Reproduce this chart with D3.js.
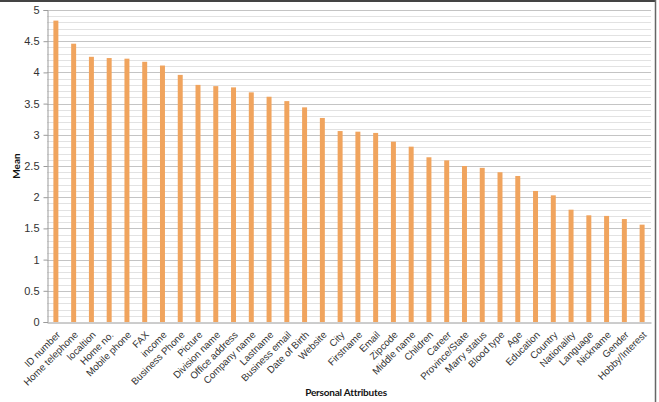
<!DOCTYPE html>
<html>
<head>
<meta charset="utf-8">
<script src="https://cdn.jsdelivr.net/npm/d3@7"></script>
<style>
  body { margin: 0; background: #fff; }
  svg { display: block; font-family: Lato, "Open Sans", sans-serif; }
</style>
</head>
<body>
<div id="vis"></div>
<script>
// attributes, in the order shown
var attributes = ["ID number", "Home telephone", "localtion", "Home no.", "Mobile phone", "FAX",
  "income", "Business Phone", "Picture", "Division name", "Office address", "Company name",
  "Lastname", "Business email", "Date of Birth", "Website", "City", "Firstname", "Email",
  "Zipcode", "Middle name", "Children", "Career", "Province/State", "Marry status",
  "Blood type", "Age", "Education", "Country", "Nationality", "Language", "Nickname",
  "Gender", "Hobby/Interest"];

var means = [4.83, 4.46, 4.25, 4.23, 4.22, 4.17,
  4.11, 3.96, 3.80, 3.78, 3.76, 3.68,
  3.61, 3.54, 3.44, 3.27, 3.06, 3.05, 3.03,
  2.89, 2.81, 2.64, 2.59, 2.50, 2.47,
  2.40, 2.34, 2.10, 2.03, 1.80, 1.71, 1.70,
  1.65, 1.56];

var yTicks = [0, 0.5, 1, 1.5, 2, 2.5, 3, 3.5, 4, 4.5, 5];

var width = 659,
	height = 402;

var margin = {top: 10, right: 8, bottom: 80, left: 47};

var svg = d3.select('#vis')
	.append('svg')
	.attr('width', width)
	.attr('height', height);

var x = d3.scaleBand()
	.domain(attributes)
	.range([margin.left, width - margin.right])
	.paddingInner(0.72)
	.paddingOuter(0.36);

var y = d3.scaleLinear()
	.domain([0, 5])
	.range([height - margin.bottom, margin.top]);

// gridlines every 0.1, darker on the half units
svg.append('g')
	.selectAll('line')
	.data(d3.range(1, 51).map(function(d) { return d / 10; }))
	.enter()
	.append('line')
	.attr('x1', margin.left)
	.attr('x2', width - margin.right)
	.attr('y1', function(d) { return Math.round(y(d)) + 0.5; })
	.attr('y2', function(d) { return Math.round(y(d)) + 0.5; })
	.style('stroke', function(d) { return Math.abs(d * 2 - Math.round(d * 2)) < 1e-6 ? '#c4c4c4' : '#e2e2e2'; })
	.style('stroke-width', 1);

// y axis
var yAxis = svg.append('g')
	.attr('transform', 'translate(' + (margin.left + 0.5) + ',0)')
	.call(d3.axisLeft(y).tickValues(yTicks).tickSize(4).tickPadding(4).tickFormat(d3.format('')));

yAxis.select('.domain').style('stroke', '#9a9a9a');
yAxis.selectAll('.tick line').style('stroke', '#9a9a9a');
yAxis.selectAll('.tick text')
	.style('font-size', '11px')
	.style('fill', '#333');

// bars
svg.append('g')
	.selectAll('rect')
	.data(means)
	.enter()
	.append('rect')
	.attr('x', function(d, i) { return x(attributes[i]); })
	.attr('y', function(d) { return y(d); })
	.attr('width', x.bandwidth())
	.attr('height', function(d) { return y(0) - y(d); })
	.style('fill', '#f0a45e');

// x axis
var xAxis = svg.append('g')
	.attr('transform', 'translate(0,' + (Math.round(y(0)) + 0.5) + ')')
	.call(d3.axisBottom(x).tickSize(0).tickPadding(0));

xAxis.select('.domain').style('stroke', '#9a9a9a');
xAxis.selectAll('.tick text')
	.attr('text-anchor', 'end')
	.attr('dy', 0)
	.attr('transform', 'translate(5,13) rotate(-45)')
	.style('font-size', '9.8px')
	.style('fill', '#333');

// axis titles
svg.append('text')
	.attr('transform', 'translate(20,' + ((y(0) + y(5)) / 2) + ') rotate(-90)')
	.attr('text-anchor', 'middle')
	.style('font-size', '10px')
	.style('font-weight', 'bold')
	.style('fill', '#111')
	.text('Mean');

svg.append('text')
	.attr('x', 346)
	.attr('y', 396)
	.attr('text-anchor', 'middle')
	.style('font-size', '10px')
	.style('letter-spacing', '-0.2px')
	.style('font-weight', 'bold')
	.style('fill', '#111')
	.text('Personal Attributes');

// outer frame (top and right edges visible in the crop)
svg.append('line')
	.attr('x1', 0).attr('x2', 656)
	.attr('y1', 1).attr('y2', 1)
	.style('stroke', '#444').style('stroke-width', 2);
svg.append('line')
	.attr('x1', 655.5).attr('x2', 655.5)
	.attr('y1', 0).attr('y2', height)
	.style('stroke', '#666').style('stroke-width', 1.5);
</script>
</body>
</html>
